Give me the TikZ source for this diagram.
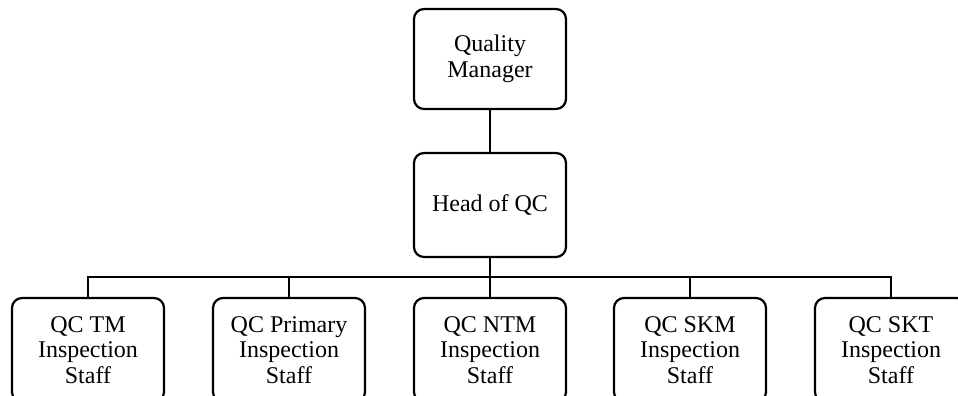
\documentclass[tikz,border=0pt]{standalone}
\usepackage{fontspec}
\setmainfont{Liberation Serif}
\begin{document}
\begin{tikzpicture}[x=1pt,y=-1pt,
  box/.style={draw, line width=2.2pt, rounded corners=10pt, minimum width=152pt, minimum height=100pt,
    align=center, inner sep=0pt, font=\fontsize{24}{25.5}\selectfont},
  conn/.style={line width=2.2pt}]
\useasboundingbox (0,0) rectangle (958,396);
\clip (0,0) rectangle (958,396);
\node[box] (qm) at (490,59) {Quality\\Manager};
\node[box, minimum height=104pt] (hoc) at (490,205) {Head of QC};
\node[box, minimum height=104pt] (b1) at (88,350) {QC TM\\Inspection\\Staff};
\node[box, minimum height=104pt] (b2) at (289,350) {QC Primary\\Inspection\\Staff};
\node[box, minimum height=104pt] (b3) at (490,350) {QC NTM\\Inspection\\Staff};
\node[box, minimum height=104pt] (b4) at (690,350) {QC SKM\\Inspection\\Staff};
\node[box, minimum height=104pt] (b5) at (891,350) {QC SKT\\Inspection\\Staff};
\coordinate (j) at (490,277);
\draw[conn] (qm) -- (hoc);
\draw[conn] (hoc.south) -- (j);
\draw[conn] (b1.north) |- (j) -| (b5.north);
\draw[conn] (b2.north) -- (b2.north |- j);
\draw[conn] (b3.north) -- (j);
\draw[conn] (b4.north) -- (b4.north |- j);
\end{tikzpicture}
\end{document}
